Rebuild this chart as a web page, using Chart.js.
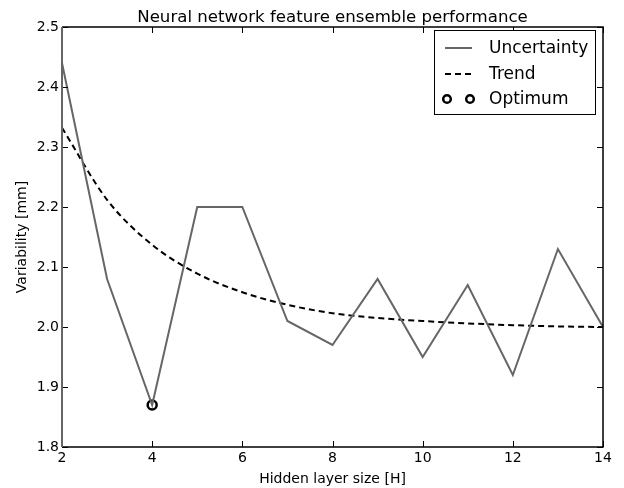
<!DOCTYPE html>
<html>
<head>
<meta charset="utf-8">
<script src="https://cdn.jsdelivr.net/npm/chart.js@4"></script>
<style>
  html, body { margin: 0; padding: 0; background: #fff; }
  #wrap { width: 624px; height: 488px; }
</style>
</head>
<body>
<div id="wrap"><canvas id="chart"></canvas></div>
<script>
// data
const layerSizes = [2, 3, 4, 5, 6, 7, 8, 9, 10, 11, 12, 13, 14];
const uncertainty = [2.44, 2.08, 1.87, 2.20, 2.20, 2.01, 1.97, 2.08, 1.95, 2.07, 1.92, 2.13, 2.00];
const trend = [2.332, 2.212, 2.137, 2.089, 2.058, 2.037, 2.023, 2.015, 2.010, 2.006, 2.003, 2.001, 2.000];
const optimumX = [4];
const optimumY = [1.87];
const xTicks = [2, 4, 6, 8, 10, 12, 14];
const yTicks = [1.8, 1.9, 2.0, 2.1, 2.2, 2.3, 2.4, 2.5];

const FONT = "'DejaVu Sans', sans-serif";

function toPoints(xs, ys) {
    return xs.map((x, i) => ({ x: x, y: ys[i] }));
}

// title, frame, inward ticks on all four sides, legend box
const decorations = {
    id: "decorations",
    afterDraw(chart) {
        let ctx = chart.ctx;
        let a = chart.chartArea;
        let xs = chart.scales.x;
        let ys = chart.scales.y;
        ctx.save();

        // ticks
        ctx.strokeStyle = "#000";
        ctx.lineWidth = 1;
        ctx.beginPath();
        xTicks.forEach(t => {
            let px = Math.round(xs.getPixelForValue(t)) + 0.5;
            ctx.moveTo(px, a.bottom); ctx.lineTo(px, a.bottom - 6);
            ctx.moveTo(px, a.top); ctx.lineTo(px, a.top + 6);
        });
        yTicks.forEach(t => {
            let py = Math.round(ys.getPixelForValue(t)) + 0.5;
            ctx.moveTo(a.left, py); ctx.lineTo(a.left + 6, py);
            ctx.moveTo(a.right, py); ctx.lineTo(a.right - 6, py);
        });
        ctx.stroke();

        // frame
        ctx.lineWidth = 1.5;
        ctx.beginPath();
        ctx.moveTo(a.left, a.top); ctx.lineTo(a.right, a.top);
        ctx.lineTo(a.right, a.bottom); ctx.lineTo(a.left, a.bottom);
        ctx.stroke();
        ctx.strokeStyle = "#666";
        ctx.lineWidth = 2;
        ctx.beginPath();
        ctx.moveTo(a.left, a.top); ctx.lineTo(a.left, a.bottom);
        ctx.stroke();

        // title
        ctx.fillStyle = "#000";
        ctx.font = "16.6px " + FONT;
        ctx.textAlign = "center";
        ctx.textBaseline = "alphabetic";
        ctx.fillText("Neural network feature ensemble performance", (a.left + a.right) / 2, 22);

        // legend
        let bx = 434.5, by = 30.5, bw = 161, bh = 84;
        ctx.fillStyle = "#fff";
        ctx.fillRect(bx, by, bw, bh);
        ctx.strokeStyle = "#000";
        ctx.lineWidth = 1;
        ctx.strokeRect(bx, by, bw, bh);

        let rows = [48, 74, 99];
        ctx.lineWidth = 2;
        ctx.strokeStyle = "#666";
        ctx.beginPath();
        ctx.moveTo(445, rows[0]); ctx.lineTo(472, rows[0]);
        ctx.stroke();
        ctx.strokeStyle = "#000";
        ctx.setLineDash([6, 4]);
        ctx.beginPath();
        ctx.moveTo(445, rows[1]); ctx.lineTo(472, rows[1]);
        ctx.stroke();
        ctx.setLineDash([]);
        ctx.lineWidth = 2.5;
        [447, 470].forEach(cx => {
            ctx.beginPath();
            ctx.arc(cx, rows[2], 3.8, 0, Math.PI * 2);
            ctx.fillStyle = "#fff";
            ctx.fill();
            ctx.stroke();
        });

        ctx.fillStyle = "#000";
        ctx.font = "17px " + FONT;
        ctx.textAlign = "left";
        ctx.textBaseline = "middle";
        ctx.fillText("Uncertainty", 489, rows[0] + 1);
        ctx.fillText("Trend", 489, rows[1] + 1);
        ctx.fillText("Optimum", 489, rows[2] + 1);
        ctx.restore();
    }
};

new Chart(document.getElementById("chart"), {
    type: "line",
    data: {
        datasets: [
            {
                label: "Uncertainty",
                data: toPoints(layerSizes, uncertainty),
                borderColor: "#666666",
                borderWidth: 2,
                pointRadius: 0,
                tension: 0,
                clip: false
            },
            {
                label: "Trend",
                data: toPoints(layerSizes, trend),
                borderColor: "#000000",
                borderWidth: 2,
                borderDash: [6, 4],
                pointRadius: 0,
                cubicInterpolationMode: "monotone"
            },
            {
                label: "Optimum",
                data: toPoints(optimumX, optimumY),
                showLine: false,
                pointRadius: 4.5,
                pointBorderWidth: 2.5,
                pointBorderColor: "#000",
                pointBackgroundColor: "#fff"
            }
        ]
    },
    options: {
        responsive: true,
        maintainAspectRatio: false,
        animation: false,
        layout: { padding: { top: 27, right: 21, left: 0, bottom: 0 } },
        plugins: {
            legend: { display: false },
            title: { display: false },
            tooltip: { enabled: false }
        },
        scales: {
            x: {
                type: "linear",
                min: 2,
                max: 14,
                afterBuildTicks: s => { s.ticks = xTicks.map(v => ({ value: v })); },
                afterFit: s => { s.height = 41; },
                grid: { display: false, drawTicks: false },
                border: { display: false },
                ticks: {
                    color: "#000",
                    font: { family: FONT, size: 14 },
                    padding: 3,
                    maxRotation: 0,
                    callback: v => String(v)
                },
                title: {
                    display: true,
                    text: "Hidden layer size [H]",
                    color: "#000",
                    font: { family: FONT, size: 14 },
                    padding: { top: 2, bottom: 0 }
                }
            },
            y: {
                type: "linear",
                min: 1.8,
                max: 2.5,
                afterBuildTicks: s => { s.ticks = yTicks.map(v => ({ value: v })); },
                afterFit: s => { s.width = 62; },
                grid: { display: false, drawTicks: false },
                border: { display: false },
                ticks: {
                    color: "#000",
                    font: { family: FONT, size: 14 },
                    padding: 3,
                    callback: v => v.toFixed(1)
                },
                title: {
                    display: true,
                    text: "Variability [mm]",
                    color: "#000",
                    font: { family: FONT, size: 14 },
                    padding: { top: 14, bottom: 4 }
                }
            }
        }
    },
    plugins: [decorations]
});
</script>
</body>
</html>
